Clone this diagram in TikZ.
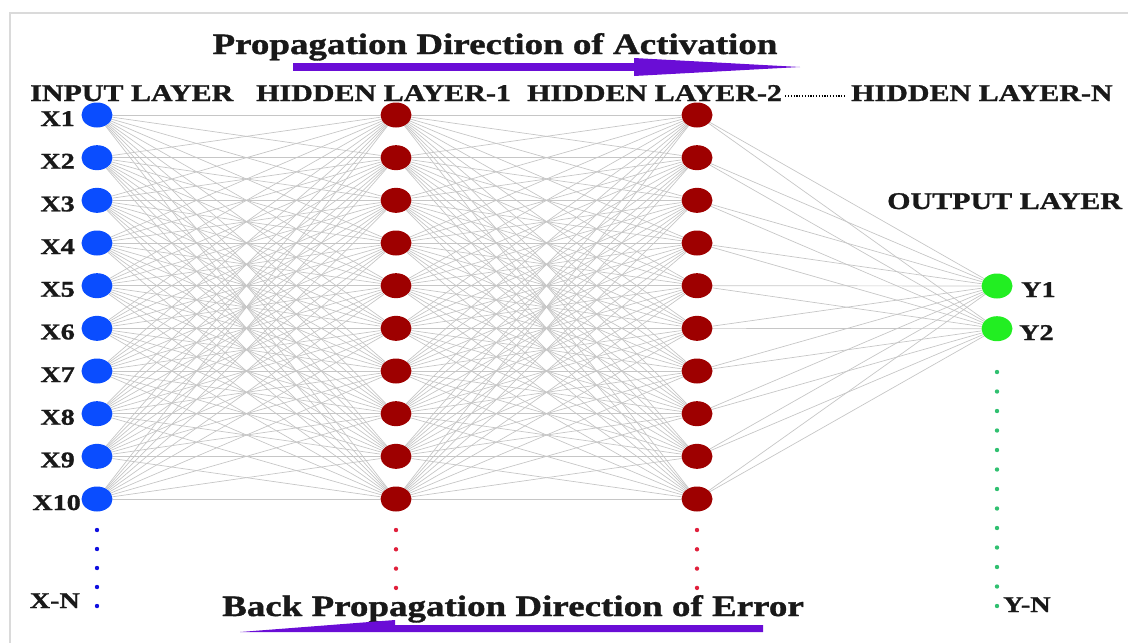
\documentclass[tikz,border=0pt]{standalone}
\usepackage{fontspec}
\setmainfont{Liberation Serif}[FakeStretch=1.25, BoldFeatures={FakeBold=1.2}]
\usetikzlibrary{shapes.geometric}
\definecolor{inblue}{HTML}{0A4DFF}
\definecolor{hred}{HTML}{9E0000}
\definecolor{outgreen}{HTML}{22EE22}
\definecolor{bluedot}{HTML}{1010E0}
\definecolor{reddot}{HTML}{E0203C}
\definecolor{greendot}{HTML}{30C070}
\definecolor{arrowpurple}{HTML}{6A0DD6}
\definecolor{framegray}{HTML}{DADADA}
\pgfdeclarelayer{bg}
\pgfsetlayers{bg,main}
\begin{document}
\begin{tikzpicture}[x=1pt,y=-1pt,
  edge/.style={draw=gray!45, line width=0.7pt},
  neuron/.style={ellipse, minimum width=31pt, minimum height=25pt, inner sep=0pt},
  inode/.style={neuron, fill=inblue},
  hnode/.style={neuron, fill=hred},
  onode/.style={neuron, fill=outgreen},
  lbl/.style={font=\bfseries\fontsize{22.5}{24}\selectfont, inner sep=0pt, text=black!90},
  headlbl/.style={font=\bfseries\fontsize{24}{28}\selectfont, inner sep=0pt, anchor=base west, text=black!90},
  titlelbl/.style={font=\bfseries\fontsize{29.6}{32}\selectfont, inner sep=0pt, anchor=base, text=black!90},
  framestyle/.style={draw=framegray, line width=2.5pt},
  dotr/.style={radius=2.2pt},
]
\useasboundingbox (0,0) rectangle (1128,643);
\draw[framestyle] (10,643) -- (10,13) -- (1128,13);

% nodes
\foreach \i [evaluate=\i as \yy using {115+(\i-1)*42.667}] in {1,...,10} {
  \node[inode] (x\i) at (97,\yy) {};
  \node[hnode] (a\i) at (396,\yy) {};
  \node[hnode] (b\i) at (697,\yy) {};
}
\foreach \i [evaluate=\i as \ly using {115+(\i-1)*42.667+11}] in {1,...,9} {
  \node[lbl, anchor=base east] (lx\i) at (75,\ly) {X\i};
}
\node[lbl, anchor=base east] (lx10) at (81,{115+9*42.667+11}) {X10};
\node[lbl, anchor=base east] (lxn) at (80,608) {X-N};

\node[onode] (y1) at (997,286) {};
\node[onode] (y2) at (997,328.7) {};
\node[lbl, anchor=base west] (ly1) at (1021,297) {Y1};
\node[lbl, anchor=base west] (ly2) at (1019,340) {Y2};
\node[lbl, anchor=base west] (lyn) at (1003,612) {Y-N};

% edges
\begin{pgfonlayer}{bg}
\foreach \i in {1,...,10} {
  \foreach \j in {1,...,10} {
    \draw[edge] (x\i) -- (a\j);
    \draw[edge] (a\i) -- (b\j);
  }
  \draw[edge] (b\i) -- (y1);
  \draw[edge] (b\i) -- (y2);
}
\end{pgfonlayer}

% continuation dots
\foreach \k in {0,...,4} \fill[bluedot] (97,{530+\k*19}) circle[dotr];
\foreach \k in {0,...,3} {
  \fill[reddot] (396,{530+\k*19.3}) circle[dotr];
  \fill[reddot] (697,{530+\k*19.3}) circle[dotr];
}
\foreach \k in {0,...,12} \fill[greendot] (997,{372+\k*19.5}) circle[dotr];

% headings
\node[headlbl] (hin) at (30,101) {INPUT LAYER};
\node[headlbl] (h1) at (256,101) {HIDDEN LAYER-1};
\node[headlbl] (h2) at (527,101) {HIDDEN LAYER-2};
\node[headlbl] (hn) at (851,101) {HIDDEN LAYER-N};
\node[headlbl] (hout) at (887,209) {OUTPUT LAYER};
\draw[line width=1.5pt, dash pattern=on 1.2pt off 1.6pt] ([xshift=3pt,yshift=5pt]h2.base east) -- ([xshift=-5pt,yshift=5pt]hn.base west);

% titles and arrows
\node[titlelbl] (ttop) at (495,54) {Propagation Direction of Activation};
\fill[arrowpurple] (293,63) rectangle (634,71);
\fill[arrowpurple] (634,58) -- (800,67) -- (634,76) -- cycle;

\node[titlelbl] (tbot) at (513,616) {Back Propagation Direction of Error};
\fill[arrowpurple] (240,632) -- (395,620) -- (395,625) -- (763,625) -- (763,632) -- cycle;
\end{tikzpicture}
\end{document}
